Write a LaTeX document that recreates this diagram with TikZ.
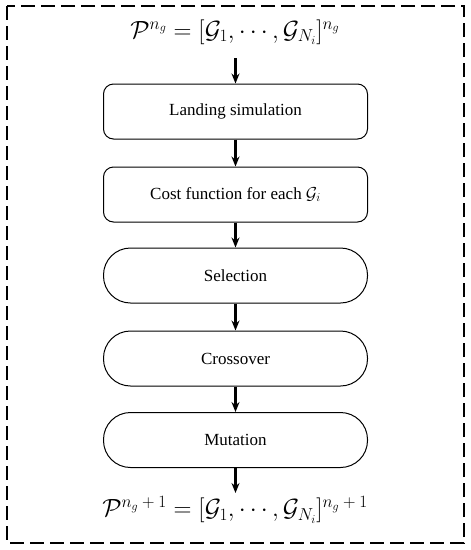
\documentclass[tikz,border=0pt]{standalone}
\usepackage{fontspec}
\setmainfont{Liberation Serif}
\newcommand\bigexp[1]{^{\hbox{\fontsize{18}{20}\selectfont$#1$}}}
\newcommand\bigsub[1]{_{\hbox{\fontsize{18}{20}\selectfont$#1$}}}
\usetikzlibrary{arrows.meta,positioning}
\begin{document}
\begin{tikzpicture}[x=1pt,y=-1pt,
  sbox/.style={draw,line width=1pt,minimum width=264pt,minimum height=55pt,rounded corners=10pt,font=\fontsize{17}{20}\selectfont,inner sep=0pt},
  pill/.style={sbox,rounded corners=27pt},
  flow/.style={line width=2.4pt,-{Stealth[length=10pt,width=8pt]}},
  formula/.style={font=\fontsize{26.5}{30}\selectfont,inner sep=0pt}]
\useasboundingbox (0,0) rectangle (471,550);
\draw[line width=2pt,dash pattern=on 14pt off 6pt] (7,6) rectangle (464,543);
\node[formula] (top) at (235,32) {$\mathcal{P}\bigexp{n_g}=[\mathcal{G}\bigsub{1},\cdots,\mathcal{G}\bigsub{N_i}]\bigexp{n_g}$};
\node[sbox] (land) at (235.5,111.5) {Landing simulation};
\node[sbox] (cost) at (235.5,194.5) {Cost function for each $\mathcal{G}_i$};
\node[pill] (sel) at (235.5,275.5) {Selection};
\node[pill] (cross) at (235.5,358.5) {Crossover};
\node[pill] (mut) at (235.5,440) {Mutation};
\node[formula] (bot) at (235,510) {$\mathcal{P}\bigexp{n_g+1}=[\mathcal{G}\bigsub{1},\cdots,\mathcal{G}\bigsub{N_i}]\bigexp{n_g+1}$};
\coordinate (topa) at (235.5,58);
\coordinate (bota) at (235.5,493);
\draw[flow] (topa) -- (land.north);
\draw[flow] (land) -- (cost);
\draw[flow] (cost) -- (sel);
\draw[flow] (sel) -- (cross);
\draw[flow] (cross) -- (mut);
\draw[flow] (mut.south) -- (bota);
\end{tikzpicture}
\end{document}
